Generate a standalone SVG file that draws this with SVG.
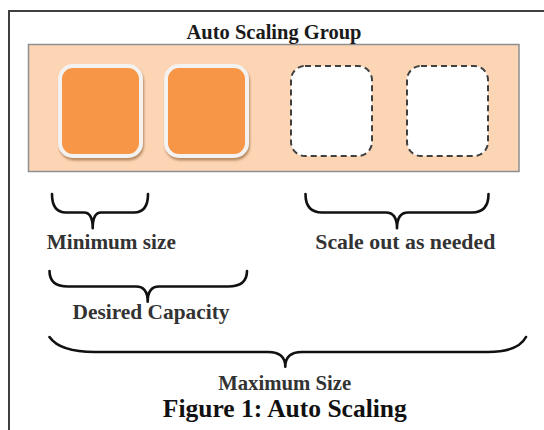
<svg xmlns="http://www.w3.org/2000/svg" width="544" height="430" viewBox="0 0 544 430">
<style>
.lbl{font-family:"Liberation Serif","Times New Roman",serif;font-weight:bold;font-size:21px;fill:#333;text-anchor:middle}
.ttl{font-family:"Liberation Serif","Times New Roman",serif;font-weight:bold;font-size:21px;fill:#1a1a1a;text-anchor:middle}
.cap{font-family:"Liberation Serif","Times New Roman",serif;font-weight:bold;font-size:26px;fill:#111;text-anchor:middle}
.inst{fill:#F79646;stroke:#F4F2F0;stroke-width:4}
.slot{fill:#fff;stroke:#404040;stroke-width:2;stroke-dasharray:6 4}
.brace{fill:none;stroke:#111;stroke-width:2.6;stroke-linecap:round;stroke-linejoin:round}
</style>
<defs>
<filter id="sh" x="-20%" y="-20%" width="140%" height="140%">
<feDropShadow dx="1" dy="2.5" stdDeviation="1.3" flood-color="#9a6a3a" flood-opacity="0.7"/>
</filter>
</defs>
<rect width="544" height="430" fill="#fff"/>
<path d="M9,430 V11 H544" fill="none" stroke="#404040" stroke-width="2"/>
<g id="group">
<rect x="28.5" y="44.5" width="490.5" height="127" fill="#FCD5B5" stroke="#8f8f8f" stroke-width="1.5"/>
<text class="ttl" x="274" y="39" textLength="175" lengthAdjust="spacingAndGlyphs">Auto Scaling Group</text>
</g>
<g id="instance1"><rect class="inst" x="60" y="66" width="81" height="90" rx="13" filter="url(#sh)"/></g>
<g id="instance2"><rect class="inst" x="166" y="66" width="81" height="90" rx="13" filter="url(#sh)"/></g>
<g id="slot1"><rect class="slot" x="291" y="66" width="81" height="90" rx="14"/></g>
<g id="slot2"><rect class="slot" x="407" y="66" width="81" height="90" rx="14"/></g>
<g id="connectors">
<path class="brace" d="M52,194 Q52,212.5 66,212.5 L84,212.5 Q92.7,212.5 92.7,228.3 Q92.7,212.5 101,212.5 L134,212.5 Q148,212.5 148,194"/>
<path class="brace" d="M305.5,194 Q305.5,212.5 322,212.5 L386,212.5 Q397,212.5 397,228.3 Q397,212.5 408,212.5 L472,212.5 Q488.5,212.5 488.5,194"/>
<path class="brace" d="M49.5,271 Q49.5,286.5 68,286.5 L136,286.5 Q147.7,286.5 147.7,301.7 Q147.7,286.5 159,286.5 L228,286.5 Q247,286.5 247,271"/>
<path class="brace" d="M49.5,337 Q60,352 95,352 L268,352 Q285.3,352 285.3,366.7 Q285.3,352 302,352 L488,352 Q518,352 526,337"/>
</g>
<text class="lbl" x="111.3" y="249.3" textLength="129" lengthAdjust="spacingAndGlyphs">Minimum size</text>
<text class="lbl" x="405.3" y="249.3" textLength="180" lengthAdjust="spacingAndGlyphs">Scale out as needed</text>
<text class="lbl" x="151" y="319.3" textLength="157" lengthAdjust="spacingAndGlyphs">Desired Capacity</text>
<text class="lbl" x="284.7" y="390" textLength="133" lengthAdjust="spacingAndGlyphs">Maximum Size</text>
<text class="cap" x="284.8" y="417" textLength="244" lengthAdjust="spacingAndGlyphs">Figure 1: Auto Scaling</text>
</svg>
